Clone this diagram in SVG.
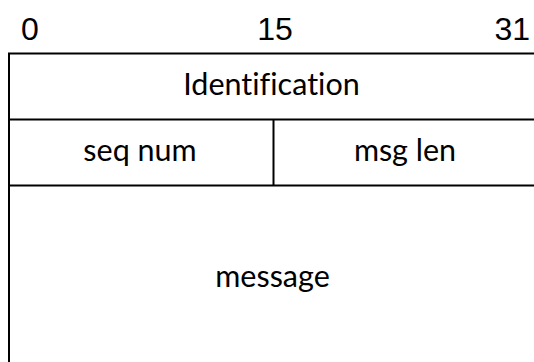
<svg xmlns="http://www.w3.org/2000/svg" width="534" height="362" viewBox="0 0 534 362">
  <style>
    .bit { font-family: "Liberation Sans", Arial, sans-serif; font-size: 32px; fill: #000; }
    .field { font-family: Lato, "Open Sans", sans-serif; font-size: 30.5px; fill: #000; text-anchor: middle; font-variant-ligatures: none; }
    .rule { stroke: #000; stroke-width: 2; fill: none; }
  </style>
  <rect width="534" height="362" fill="#fff"/>

  <!-- bit positions -->
  <g id="bit-scale">
    <text class="bit" x="21" y="40">0</text>
    <text class="bit" x="275" y="40" text-anchor="middle">15</text>
    <text class="bit" x="530" y="40" text-anchor="end">31</text>
  </g>

  <!-- packet frame and row dividers -->
  <g id="frame-lines">
    <path class="rule" d="M540 53.5 H9 V370"/>
    <path class="rule" d="M9 119.5 H540"/>
    <path class="rule" d="M9 185.5 H540"/>
    <path class="rule" d="M273.5 119.5 V185.5"/>
  </g>

  <g id="identification">
    <text class="field" x="271.5" y="95">Identification</text>
  </g>
  <g id="seq-num">
    <text class="field" x="140" y="161">seq num</text>
  </g>
  <g id="msg-len">
    <text class="field" x="405" y="161">msg len</text>
  </g>
  <g id="message">
    <text class="field" x="272.5" y="287">message</text>
  </g>
</svg>
